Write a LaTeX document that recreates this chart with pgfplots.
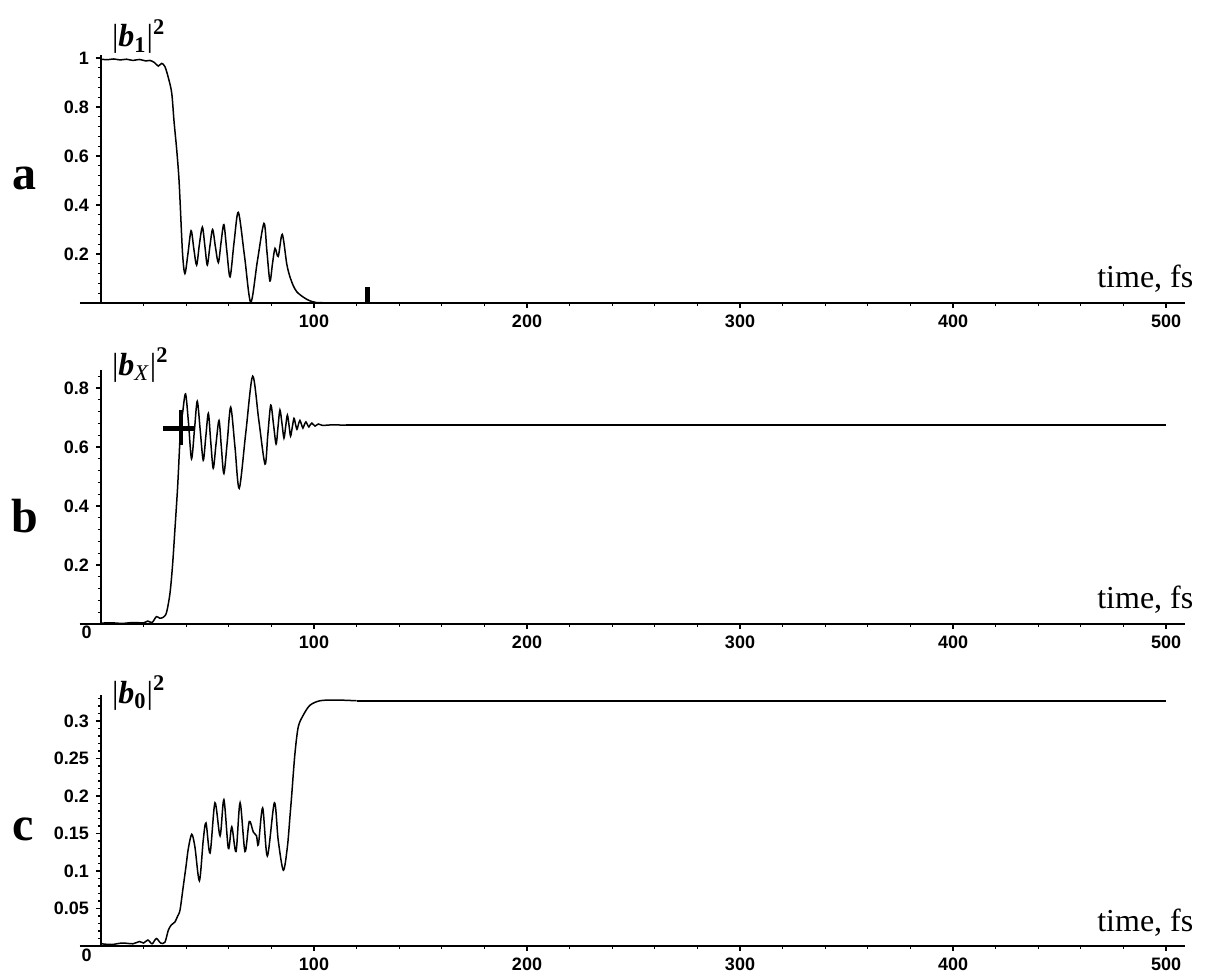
\documentclass[border=0pt]{standalone}
\usepackage{fontspec}
\setmainfont{Liberation Serif}
\setsansfont{Liberation Sans}
\usepackage{pgfplots}
\pgfplotsset{compat=1.18}

\pgfplotsset{
  panel/.style={
    x=1.065pt,
    xmin=-10, xmax=509, ymin=0,
    axis lines=middle,
    axis line style={-, line width=0.75pt},
    clip=false,
    tick align=outside,
    major tick length=2.5pt,
    minor tick length=1.5pt,
    tick style={black, line width=0.6pt},
    xtick={0,100,200,300,400,500},
    xticklabels={,100,200,300,400,500},
    minor xtick={20,40,60,80,120,140,160,180,220,240,260,280,320,340,360,380,420,440,460,480},
    ticklabel style={font=\fontsize{9}{10}\selectfont\sffamily\bfseries},
    /pgf/number format/assume math mode=true,
    no markers,
  },
  crv/.style={black, line width=0.75pt},
}
\tikzset{
  lbl/.style={font=\fontsize{24}{24}\selectfont\bfseries},
  ylb/.style={font=\fontsize{16}{16}\selectfont, anchor=base west, inner sep=0pt},
  tlb/.style={font=\fontsize{16}{16}\selectfont, anchor=base east, inner sep=0pt},
  zlb/.style={anchor=north east, inner sep=0pt, font=\fontsize{9}{10}\selectfont\sffamily\bfseries},
}

\begin{document}
\begin{tikzpicture}
\path[use as bounding box] (-50.5pt,151.5pt) rectangle (564pt,-335.5pt);

% ---- a ----
\begin{axis}[panel, at={(0pt,0pt)}, anchor=origin,
  y=122.5pt, ymax=1.012,
  ytick={0,0.2,0.4,0.6,0.8,1},
  yticklabels={,0.2,0.4,0.6,0.8,1},
  minor ytick={0.04,0.08,0.12,0.16,0.24,0.28,0.32,0.36,0.44,0.48,0.52,0.56,0.64,0.68,0.72,0.76,0.84,0.88,0.92,0.96},
]
\addplot[crv, smooth] coordinates {
(0,0.995) (3,0.993) (6,0.996) (9,0.992) (12,0.995) (15,0.99) (18,0.994) (21,0.988)
(23,0.99) (25,0.982) (26.9,0.967) (28.5,0.978) (30,0.965) (31.6,0.92) (33.2,0.857)
(34.3,0.74) (35.5,0.63) (36.5,0.52) (37.1,0.42) (38.3,0.20) (39.4,0.12) (40.8,0.2)
(42.3,0.295) (43.6,0.22) (44.9,0.155) (46.2,0.24) (47.6,0.31) (48.8,0.23) (49.9,0.155)
(51.1,0.23) (52.4,0.30) (53.7,0.23) (55.1,0.165) (56.4,0.25) (57.7,0.32) (59.1,0.21)
(60.6,0.107) (62.5,0.25) (64.5,0.37) (67.4,0.19) (70.3,0.003) (73.4,0.17) (76.5,0.325)
(77.9,0.21) (79.3,0.09) (80.5,0.16) (81.7,0.223) (83.2,0.19) (85.1,0.28) (87.2,0.16)
(88.7,0.107) (90.3,0.07) (91.9,0.046) (94,0.03) (96.6,0.015) (99,0.006) (101,0.002)
(104,0.001) (110,0)};
\addplot[crv] coordinates {(110,0) (500,0)};
\addplot[black, line width=2.6pt] coordinates {(125.2,0) (125.2,0.066)};
\node[lbl] at (axis cs:-35.7,0.51) {a};
\node[ylb] at (axis cs:5,1.045) {|\textbf{\textit{b}}\textsubscript{\textbf{1}}|\textsuperscript{\textbf{2}}};
\node[tlb] at (axis cs:513,0.062) {time, fs};
\end{axis}

% ---- b ----
\begin{axis}[panel, at={(0pt,-160.5pt)}, anchor=origin,
  y=147.5pt, ymax=0.861,
  ytick={0,0.2,0.4,0.6,0.8},
  yticklabels={,0.2,0.4,0.6,0.8},
  minor ytick={0.04,0.08,0.12,0.16,0.24,0.28,0.32,0.36,0.44,0.48,0.52,0.56,0.64,0.68,0.72,0.76,0.84},
]
\addplot[crv, smooth] coordinates {
(0,0.003) (5,0.004) (10,0.002) (15,0.005) (20,0.004) (22,0.01) (24,0.005) (26,0.025)
(27.5,0.02) (29.3,0.023) (30.8,0.04) (32.4,0.105) (33.6,0.2) (34.7,0.32) (35.8,0.443)
(36.3,0.51) (37.4,0.67) (38.3,0.715) (39.7,0.78) (41.1,0.68) (42.5,0.56) (43.9,0.66)
(45.2,0.755) (46.6,0.655) (48.0,0.555) (49.2,0.635) (50.4,0.714) (51.5,0.62) (52.7,0.528)
(54.0,0.61) (55.4,0.69) (56.5,0.6) (57.7,0.51) (59.3,0.62) (60.9,0.735) (62.9,0.6)
(64.9,0.46) (68,0.65) (71.2,0.84) (74.1,0.69) (77,0.542) (78.3,0.64) (79.7,0.742)
(81,0.676) (82.2,0.61) (83.1,0.668) (84,0.725) (85,0.678) (85.9,0.63) (86.7,0.67)
(87.5,0.708) (88.3,0.672) (89.0,0.637) (89.8,0.667) (90.6,0.697) (91.3,0.678) (92,0.66)
(92.7,0.677) (93.4,0.69) (94.1,0.677) (94.8,0.664) (95.5,0.676) (96.2,0.685) (96.9,0.676)
(97.6,0.668) (98.3,0.676) (99,0.681) (100.5,0.671) (102,0.678) (104,0.673) (108,0.675)
(115,0.674)};
\addplot[crv] coordinates {(115,0.674) (500,0.674)};
\addplot[black, line width=2.2pt] coordinates {(29,0.663) (44.2,0.663)};
\addplot[black, line width=2pt] coordinates {(37.7,0.607) (37.7,0.725)};
\node[lbl] at (axis cs:-35.7,0.366) {b};
\node[ylb] at (axis cs:5,0.844) {|\textbf{\textit{b}}\textsubscript{\textit{X}}|\textsuperscript{\textbf{2}}};
\node[tlb] at (axis cs:513,0.051) {time, fs};
\node[zlb] at (axis cs:-4.2,-0.006) {0};
\end{axis}

% ---- c ----
\begin{axis}[panel, at={(0pt,-321.5pt)}, anchor=origin,
  y=375pt, ymax=0.335,
  ytick={0,0.05,0.1,0.15,0.2,0.25,0.3},
  yticklabels={,0.05,0.1,0.15,0.2,0.25,0.3},
  minor ytick={0.01,0.02,0.03,0.04,0.06,0.07,0.08,0.09,0.11,0.12,0.13,0.14,0.16,0.17,0.18,0.19,0.21,0.22,0.23,0.24,0.26,0.27,0.28,0.29,0.31,0.32,0.33},
]
\addplot[crv, smooth] coordinates {
(0,0.003) (5,0.002) (10,0.004) (15,0.003) (18,0.006) (20,0.004) (22,0.008) (24,0.003)
(26,0.01) (28,0.004) (30,0.005) (31.6,0.021) (33,0.028) (34.7,0.032) (36,0.04)
(37.1,0.048) (38.6,0.079) (39.9,0.106) (41.0,0.13) (42.6,0.149) (44.1,0.132) (46.2,0.087)
(48,0.141) (49.3,0.164) (51.2,0.124) (53.5,0.191) (55.9,0.147) (57.7,0.195) (59.8,0.13)
(61.4,0.159) (63.4,0.126) (65.3,0.191) (67.6,0.126) (69.6,0.166) (71.5,0.152) (73,0.147)
(73.9,0.135) (75.9,0.184) (78.1,0.12) (81.4,0.191) (83.2,0.141) (85.6,0.101) (87.5,0.132)
(88.7,0.172) (89.5,0.2) (91,0.255) (92.6,0.292) (95,0.308) (98.1,0.321) (102.8,0.327)
(110,0.328) (120,0.327)};
\addplot[crv] coordinates {(120,0.327) (500,0.327)};
\node[lbl] at (axis cs:-36.6,0.155) {c};
\node[ylb] at (axis cs:5,0.324) {|\textbf{\textit{b}}\textsubscript{\textbf{0}}|\textsuperscript{\textbf{2}}};
\node[tlb] at (axis cs:513,0.02) {time, fs};
\node[zlb] at (axis cs:-4.2,-0.003) {0};
\end{axis}
\end{tikzpicture}
\end{document}
